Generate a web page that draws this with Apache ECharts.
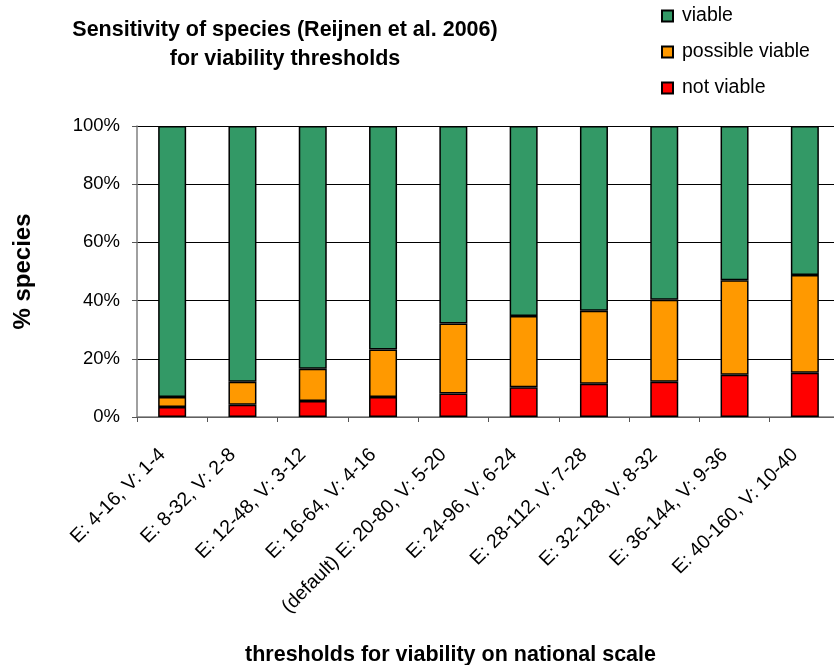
<!DOCTYPE html>
<html>
<head>
<meta charset="utf-8">
<script src="https://cdn.jsdelivr.net/npm/echarts@6/dist/echarts.min.js"></script>
<style>html,body{margin:0;padding:0;background:#fff}#c{width:834px;height:665px}</style>
</head>
<body>
<div id="c"></div>
<script>
const categories = ["E: 4-16, V: 1-4","E: 8-32, V: 2-8","E: 12-48, V: 3-12","E: 16-64, V: 4-16","(default) E: 20-80, V: 5-20","E: 24-96, V: 6-24","E: 28-112, V: 7-28","E: 32-128, V: 8-32","E: 36-144, V: 9-36","E: 40-160, V: 10-40"];
const notViable = [3.4, 4.2, 5.5, 6.9, 8.1, 10.2, 11.4, 12.1, 14.5, 15.2];
const possibleViable = [3.5, 7.9, 11.1, 16.3, 24.0, 24.5, 25.1, 28.2, 32.5, 33.6];
const viable = [93.1, 87.9, 83.4, 76.8, 67.9, 65.3, 63.5, 59.7, 53.0, 51.2];
const yTicks = ["0%","20%","40%","60%","80%","100%"];

const font = "'Liberation Sans', Arial, sans-serif";
const chart = echarts.init(document.getElementById('c'), null, {renderer: 'canvas'});
const border = {borderColor: '#000', borderWidth: 1.5};
chart.setOption({
  animation: false,
  title: {
    text: 'Sensitivity of species (Reijnen et al. 2006)\nfor viability thresholds',
    left: 285, top: 16, textAlign: 'center', padding: 0,
    textStyle: {fontFamily: font, fontSize: 21.5, fontWeight: 'bold', color: '#000', lineHeight: 29}
  },
  legend: {
    orient: 'vertical', left: 661, top: 6, padding: 0,
    itemWidth: 11, itemHeight: 11, itemGap: 16,
    data: ['viable', 'possible viable', 'not viable'],
    textStyle: {fontFamily: font, fontSize: 19.5, color: '#000', lineHeight: 20, padding: [0, 0, 0, 4]},
    icon: 'rect'
  },
  grid: {left: 137, top: 126, bottom: 248, right: -6, outerBoundsMode: 'none', containLabel: false},
  xAxis: {
    type: 'category', data: categories,
    name: 'thresholds for viability on national scale',
    nameLocation: 'middle', nameGap: 227,
    nameTextStyle: {fontFamily: font, fontSize: 21.5, fontWeight: 'bold', color: '#000', padding: [0, 76, 0, 0]},
    axisLine: {lineStyle: {color: '#808080', width: 1.5}},
    axisTick: {show: true, alignWithLabel: false, length: 5, lineStyle: {color: '#555'}},
    axisLabel: {interval: 0, rotate: 45, margin: 25, padding: [0, 14, 0, 0], fontFamily: font, fontSize: 19.5, color: '#000'}
  },
  yAxis: {
    type: 'value', min: 0, max: 100, interval: 20,
    name: '% species', nameLocation: 'middle', nameGap: 102, nameRotate: 90,
    nameTextStyle: {fontFamily: font, fontSize: 24, fontWeight: 'bold', color: '#000'},
    axisLine: {show: true, lineStyle: {color: '#808080', width: 1.5}},
    axisTick: {show: true, inside: false, length: 5, lineStyle: {color: '#555'}},
    axisLabel: {fontFamily: font, fontSize: 18.5, color: '#000', margin: 17,
      formatter: v => yTicks[Math.round(v / 20)]},
    splitLine: {show: true, lineStyle: {color: '#000', width: 1}}
  },
  series: [
    {name: 'not viable', type: 'bar', stack: 's', data: notViable, barWidth: 28, itemStyle: Object.assign({color: '#FF0000'}, border)},
    {name: 'possible viable', type: 'bar', stack: 's', data: possibleViable, barWidth: 28, itemStyle: Object.assign({color: '#FF9900'}, border)},
    {name: 'viable', type: 'bar', stack: 's', data: viable, barWidth: 28, itemStyle: Object.assign({color: '#339966'}, border)}
  ]
});
</script>
</body>
</html>
